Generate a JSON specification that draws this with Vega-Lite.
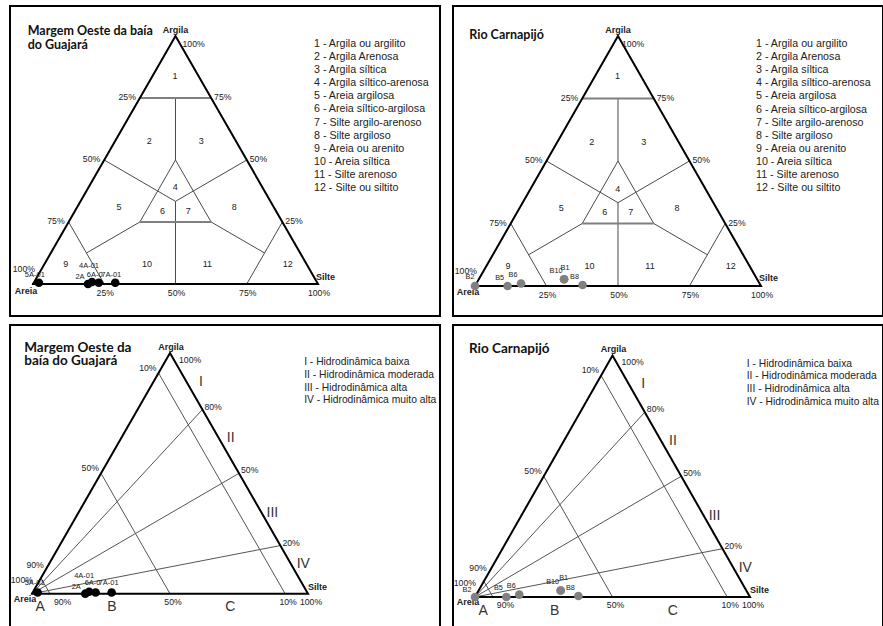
{
"$schema": "https://vega.github.io/schema/vega-lite/v6.json",
"padding": {"left": 9, "top": 5, "right": 0, "bottom": 0},
"background": "white",
"config": {"view": {"stroke": "#000", "strokeWidth": 2}, "text": {"font": "Liberation Sans", "color": "#222"}},
"datasets": {
"shepard": [
{"linha":"contorno","tipo":"contorno","ordem":1,"silte":0,"argila":0},
{"linha":"contorno","tipo":"contorno","ordem":2,"silte":100,"argila":0},
{"linha":"contorno","tipo":"contorno","ordem":3,"silte":0,"argila":100},
{"linha":"contorno","tipo":"contorno","ordem":4,"silte":0,"argila":0},
{"linha":"argila75","tipo":"forte","ordem":1,"silte":0,"argila":75},
{"linha":"argila75","tipo":"forte","ordem":2,"silte":25,"argila":75},
{"linha":"base_central","tipo":"forte","ordem":1,"silte":25,"argila":25},
{"linha":"base_central","tipo":"forte","ordem":2,"silte":50,"argila":25},
{"linha":"eixo_sup","tipo":"fina","ordem":1,"silte":12.5,"argila":75},
{"linha":"eixo_sup","tipo":"fina","ordem":2,"silte":25,"argila":50},
{"linha":"eixo_inf","tipo":"fina","ordem":1,"silte":33.33,"argila":33.33},
{"linha":"eixo_inf","tipo":"fina","ordem":2,"silte":50,"argila":0},
{"linha":"central_lados","tipo":"fina","ordem":1,"silte":25,"argila":25},
{"linha":"central_lados","tipo":"fina","ordem":2,"silte":25,"argila":50},
{"linha":"central_lados","tipo":"fina","ordem":3,"silte":50,"argila":25},
{"linha":"y_esq","tipo":"fina","ordem":1,"silte":0,"argila":50},
{"linha":"y_esq","tipo":"fina","ordem":2,"silte":33.33,"argila":33.33},
{"linha":"y_dir","tipo":"fina","ordem":1,"silte":50,"argila":50},
{"linha":"y_dir","tipo":"fina","ordem":2,"silte":33.33,"argila":33.33},
{"linha":"areia75","tipo":"fina","ordem":1,"silte":0,"argila":25},
{"linha":"areia75","tipo":"fina","ordem":2,"silte":25,"argila":0},
{"linha":"silte75","tipo":"fina","ordem":1,"silte":75,"argila":25},
{"linha":"silte75","tipo":"fina","ordem":2,"silte":75,"argila":0},
{"linha":"lig_esq","tipo":"fina","ordem":1,"silte":12.5,"argila":12.5},
{"linha":"lig_esq","tipo":"fina","ordem":2,"silte":25,"argila":25},
{"linha":"lig_dir","tipo":"fina","ordem":1,"silte":75,"argila":12.5},
{"linha":"lig_dir","tipo":"fina","ordem":2,"silte":50,"argila":25}
],
"pejrup": [
{"linha":"contorno","tipo":"contorno","ordem":1,"silte":0,"argila":0},
{"linha":"contorno","tipo":"contorno","ordem":2,"silte":100,"argila":0},
{"linha":"contorno","tipo":"contorno","ordem":3,"silte":0,"argila":100},
{"linha":"contorno","tipo":"contorno","ordem":4,"silte":0,"argila":0},
{"linha":"areia10","tipo":"fina","ordem":1,"silte":0,"argila":91.7},
{"linha":"areia10","tipo":"fina","ordem":2,"silte":91.7,"argila":0},
{"linha":"areia50","tipo":"fina","ordem":1,"silte":0,"argila":50},
{"linha":"areia50","tipo":"fina","ordem":2,"silte":50,"argila":0},
{"linha":"areia90","tipo":"fina","ordem":1,"silte":0,"argila":6.5},
{"linha":"areia90","tipo":"fina","ordem":2,"silte":6.5,"argila":0},
{"linha":"razao80","tipo":"fina","ordem":1,"silte":0,"argila":0},
{"linha":"razao80","tipo":"fina","ordem":2,"silte":23.5,"argila":76.5},
{"linha":"razao50","tipo":"fina","ordem":1,"silte":0,"argila":0},
{"linha":"razao50","tipo":"fina","ordem":2,"silte":50,"argila":50},
{"linha":"razao20","tipo":"fina","ordem":1,"silte":0,"argila":0},
{"linha":"razao20","tipo":"fina","ordem":2,"silte":80,"argila":20}
],
"classes": [
{"classe":1,"silte":7.8,"argila":84},
{"classe":2,"silte":12.05,"argila":57.5},
{"classe":3,"silte":30.25,"argila":57.5},
{"classe":4,"silte":30.4,"argila":39},
{"classe":5,"silte":14.6,"argila":31.2},
{"classe":6,"silte":30.6,"argila":29.6},
{"classe":7,"silte":39.7,"argila":29.6},
{"classe":8,"silte":55,"argila":31.2},
{"classe":9,"silte":7.5,"argila":8},
{"classe":10,"silte":36,"argila":8},
{"classe":11,"silte":57.2,"argila":8},
{"classe":12,"silte":85.4,"argila":8}
],
"escala_shepard": [
{"texto":"25%","lado":"esq","silte":0,"argila":75},
{"texto":"50%","lado":"esq","silte":0,"argila":50},
{"texto":"75%","lado":"esq","silte":0,"argila":25},
{"texto":"75%","lado":"dir","silte":25,"argila":75},
{"texto":"50%","lado":"dir","silte":50,"argila":50},
{"texto":"25%","lado":"dir","silte":75,"argila":25},
{"texto":"25%","lado":"base","silte":25,"argila":0},
{"texto":"50%","lado":"base","silte":50,"argila":0},
{"texto":"75%","lado":"base","silte":75,"argila":0},
{"texto":"100%","lado":"base","silte":100,"argila":0}
],
"escala_pejrup": [
{"texto":"10%","lado":"esq","silte":0,"argila":91.7},
{"texto":"50%","lado":"esq","silte":0,"argila":50},
{"texto":"90%","lado":"esq","silte":0,"argila":10},
{"texto":"80%","lado":"dir","silte":23.5,"argila":76.5},
{"texto":"50%","lado":"dir","silte":50,"argila":50},
{"texto":"20%","lado":"dir","silte":80,"argila":20},
{"texto":"90%","lado":"base","silte":10,"argila":0},
{"texto":"50%","lado":"base","silte":50,"argila":0},
{"texto":"10%","lado":"base","silte":91.7,"argila":0},
{"texto":"100%","lado":"base","silte":100,"argila":0}
],
"amostras": [
{"local":"Guajará","amostra":"5A-01","silte":1.8,"argila":0.5},
{"local":"Guajará","amostra":"2A","silte":19.3,"argila":0},
{"local":"Guajará","amostra":"4A-01","silte":20.3,"argila":0.8},
{"local":"Guajará","amostra":"6A-0","silte":22.8,"argila":0.5},
{"local":"Guajará","amostra":"7A-01","silte":28.6,"argila":0.5},
{"local":"Carnapijó","amostra":"B2","silte":0,"argila":0},
{"local":"Carnapijó","amostra":"B5","silte":11.4,"argila":0},
{"local":"Carnapijó","amostra":"B6","silte":15.6,"argila":1},
{"local":"Carnapijó","amostra":"B10","silte":29.8,"argila":2.7},
{"local":"Carnapijó","amostra":"B1","silte":29.8,"argila":2.7},
{"local":"Carnapijó","amostra":"B8","silte":37.4,"argila":0.4}
]
},
"columns": 2,
"spacing": {"row": 9, "column": 13},
"bounds": "flush",
"resolve": {"scale": {"x": "independent", "y": "independent"}},
"concat": [
{"width": 430, "height": 310, "layer": [
{"data":{"name":"shepard"},"transform":[{"filter":"datum.tipo == 'fina'"},{"calculate":"datum.silte + datum.argila / 2","as":"x"}],"mark":{"type":"line","color":"#4a4a4a","strokeWidth":1},"encoding":{"x":{"field":"x","type":"quantitative","scale":{"domain":[-8.07,142.81],"nice":false,"zero":false},"axis":null},"y":{"field":"argila","type":"quantitative","scale":{"domain":[-12.9,112.1],"nice":false,"zero":false},"axis":null},"detail":{"field":"linha","type":"nominal"},"order":{"field":"ordem","type":"quantitative"}}},
{"data":{"name":"shepard"},"transform":[{"filter":"datum.tipo == 'forte'"},{"calculate":"datum.silte + datum.argila / 2","as":"x"}],"mark":{"type":"line","color":"#808080","strokeWidth":2},"encoding":{"x":{"field":"x","type":"quantitative","scale":{"domain":[-8.07,142.81],"nice":false,"zero":false},"axis":null},"y":{"field":"argila","type":"quantitative","scale":{"domain":[-12.9,112.1],"nice":false,"zero":false},"axis":null},"detail":{"field":"linha","type":"nominal"},"order":{"field":"ordem","type":"quantitative"}}},
{"data":{"name":"shepard"},"transform":[{"filter":"datum.tipo == 'contorno'"},{"calculate":"datum.silte + datum.argila / 2","as":"x"}],"mark":{"type":"line","color":"#000","strokeWidth":2,"strokeCap":"square"},"encoding":{"x":{"field":"x","type":"quantitative","scale":{"domain":[-8.07,142.81],"nice":false,"zero":false},"axis":null},"y":{"field":"argila","type":"quantitative","scale":{"domain":[-12.9,112.1],"nice":false,"zero":false},"axis":null},"detail":{"field":"linha","type":"nominal"},"order":{"field":"ordem","type":"quantitative"}}},
{"data":{"name":"classes"},"transform":[{"calculate":"datum.silte + datum.argila / 2","as":"x"}],"mark":{"type":"text","fontSize":9,"align":"center","baseline":"middle"},"encoding":{"x":{"field":"x","type":"quantitative","scale":{"domain":[-8.07,142.81],"nice":false,"zero":false},"axis":null},"y":{"field":"argila","type":"quantitative","scale":{"domain":[-12.9,112.1],"nice":false,"zero":false},"axis":null},"text":{"field":"classe","type":"nominal"}}},
{"data":{"name":"escala_shepard"},"transform":[{"filter":"datum.lado == 'esq'"},{"calculate":"datum.silte + datum.argila / 2","as":"x"}],"mark":{"type":"text","fontSize":8.7,"align":"right","baseline":"middle","dx":-4,"dy":-1},"encoding":{"x":{"field":"x","type":"quantitative","scale":{"domain":[-8.07,142.81],"nice":false,"zero":false},"axis":null},"y":{"field":"argila","type":"quantitative","scale":{"domain":[-12.9,112.1],"nice":false,"zero":false},"axis":null},"text":{"field":"texto","type":"nominal"}}},
{"data":{"name":"escala_shepard"},"transform":[{"filter":"datum.lado == 'dir'"},{"calculate":"datum.silte + datum.argila / 2","as":"x"}],"mark":{"type":"text","fontSize":8.7,"align":"left","baseline":"middle","dx":3,"dy":-1},"encoding":{"x":{"field":"x","type":"quantitative","scale":{"domain":[-8.07,142.81],"nice":false,"zero":false},"axis":null},"y":{"field":"argila","type":"quantitative","scale":{"domain":[-12.9,112.1],"nice":false,"zero":false},"axis":null},"text":{"field":"texto","type":"nominal"}}},
{"data":{"name":"escala_shepard"},"transform":[{"filter":"datum.lado == 'base'"},{"calculate":"datum.silte + datum.argila / 2","as":"x"}],"mark":{"type":"text","fontSize":8.7,"align":"center","baseline":"middle","dx":1,"dy":9},"encoding":{"x":{"field":"x","type":"quantitative","scale":{"domain":[-8.07,142.81],"nice":false,"zero":false},"axis":null},"y":{"field":"argila","type":"quantitative","scale":{"domain":[-12.9,112.1],"nice":false,"zero":false},"axis":null},"text":{"field":"texto","type":"nominal"}}},
{"data":{"values":[{}]},"mark":{"type":"text","text":"Argila","fontWeight":"bold","fontSize":9,"align":"center","baseline":"middle","dy":-6},"encoding":{"x":{"datum":50,"type":"quantitative","scale":{"domain":[-8.07,142.81],"nice":false,"zero":false},"axis":null},"y":{"datum":100,"type":"quantitative","scale":{"domain":[-12.9,112.1],"nice":false,"zero":false},"axis":null}}},
{"data":{"values":[{}]},"mark":{"type":"text","text":"100%","fontSize":8.7,"align":"left","baseline":"middle","dx":7,"dy":8},"encoding":{"x":{"datum":50,"type":"quantitative","scale":{"domain":[-8.07,142.81],"nice":false,"zero":false},"axis":null},"y":{"datum":100,"type":"quantitative","scale":{"domain":[-12.9,112.1],"nice":false,"zero":false},"axis":null}}},
{"data":{"values":[{}]},"mark":{"type":"text","text":"100%","fontSize":8.7,"align":"right","baseline":"middle","dx":2,"dy":-15},"encoding":{"x":{"datum":0,"type":"quantitative","scale":{"domain":[-8.07,142.81],"nice":false,"zero":false},"axis":null},"y":{"datum":0,"type":"quantitative","scale":{"domain":[-12.9,112.1],"nice":false,"zero":false},"axis":null}}},
{"data":{"values":[{}]},"mark":{"type":"text","text":"Areia","fontWeight":"bold","fontSize":9,"align":"center","baseline":"middle","dx":-7,"dy":7},"encoding":{"x":{"datum":0,"type":"quantitative","scale":{"domain":[-8.07,142.81],"nice":false,"zero":false},"axis":null},"y":{"datum":0,"type":"quantitative","scale":{"domain":[-12.9,112.1],"nice":false,"zero":false},"axis":null}}},
{"data":{"values":[{}]},"mark":{"type":"text","text":"Silte","fontWeight":"bold","fontSize":9,"align":"left","baseline":"middle","dx":-2,"dy":-7},"encoding":{"x":{"datum":100,"type":"quantitative","scale":{"domain":[-8.07,142.81],"nice":false,"zero":false},"axis":null},"y":{"datum":0,"type":"quantitative","scale":{"domain":[-12.9,112.1],"nice":false,"zero":false},"axis":null}}},
{"data":{"values":[{}]},"mark":{"type":"text","text":["Margem Oeste da baía","do Guajará"],"font":"Lato","fontWeight":"bold","fontSize":12.5,"lineHeight":14,"align":"left","baseline":"top","color":"#111"},"encoding":{"x":{"datum":-1.86,"type":"quantitative","scale":{"domain":[-8.07,142.81],"nice":false,"zero":false},"axis":null},"y":{"datum":104.5,"type":"quantitative","scale":{"domain":[-12.9,112.1],"nice":false,"zero":false},"axis":null}}},
{"data":{"values":[{}]},"mark":{"type":"text","text":["1 - Argila ou argilito","2 - Argila Arenosa","3 - Argila síltica","4 - Argila síltico-arenosa","5 - Areia argilosa","6 - Areia síltico-argilosa","7 - Silte argilo-arenoso","8 - Silte argiloso","9 - Areia ou arenito","10 - Areia síltica","11 - Silte arenoso","12 - Silte ou siltito"],"fontSize":10.7,"lineHeight":13.1,"align":"left","baseline":"top"},"encoding":{"x":{"datum":98.6,"type":"quantitative","scale":{"domain":[-8.07,142.81],"nice":false,"zero":false},"axis":null},"y":{"datum":98.8,"type":"quantitative","scale":{"domain":[-12.9,112.1],"nice":false,"zero":false},"axis":null}}},
{"data":{"name":"amostras"},"transform":[{"filter":"datum.local == 'Guajará'"},{"calculate":"datum.silte + datum.argila / 2","as":"x"}],"mark":{"type":"circle","color":"#000","size":75,"opacity":1},"encoding":{"x":{"field":"x","type":"quantitative","scale":{"domain":[-8.07,142.81],"nice":false,"zero":false},"axis":null},"y":{"field":"argila","type":"quantitative","scale":{"domain":[-12.9,112.1],"nice":false,"zero":false},"axis":null}}},
{"data":{"name":"amostras"},"transform":[{"filter":"datum.amostra == '5A-01' || datum.amostra == '6A-0' || datum.amostra == '7A-01'"},{"calculate":"datum.silte + datum.argila / 2","as":"x"}],"mark":{"type":"text","fontSize":7.5,"align":"center","baseline":"middle","dx":-4,"dy":-8},"encoding":{"x":{"field":"x","type":"quantitative","scale":{"domain":[-8.07,142.81],"nice":false,"zero":false},"axis":null},"y":{"field":"argila","type":"quantitative","scale":{"domain":[-12.9,112.1],"nice":false,"zero":false},"axis":null},"text":{"field":"amostra","type":"nominal"}}},
{"data":{"name":"amostras"},"transform":[{"filter":"datum.amostra == '2A'"},{"calculate":"datum.silte + datum.argila / 2","as":"x"}],"mark":{"type":"text","fontSize":7.5,"align":"center","baseline":"middle","dx":-8,"dy":-7},"encoding":{"x":{"field":"x","type":"quantitative","scale":{"domain":[-8.07,142.81],"nice":false,"zero":false},"axis":null},"y":{"field":"argila","type":"quantitative","scale":{"domain":[-12.9,112.1],"nice":false,"zero":false},"axis":null},"text":{"field":"amostra","type":"nominal"}}},
{"data":{"name":"amostras"},"transform":[{"filter":"datum.amostra == '4A-01'"},{"calculate":"datum.silte + datum.argila / 2","as":"x"}],"mark":{"type":"text","fontSize":7.5,"align":"center","baseline":"middle","dx":-3,"dy":-16},"encoding":{"x":{"field":"x","type":"quantitative","scale":{"domain":[-8.07,142.81],"nice":false,"zero":false},"axis":null},"y":{"field":"argila","type":"quantitative","scale":{"domain":[-12.9,112.1],"nice":false,"zero":false},"axis":null},"text":{"field":"amostra","type":"nominal"}}}
]},
{"width": 430, "height": 310, "layer": [
{"data":{"name":"shepard"},"transform":[{"filter":"datum.tipo == 'fina'"},{"calculate":"datum.silte + datum.argila / 2","as":"x"}],"mark":{"type":"line","color":"#4a4a4a","strokeWidth":1},"encoding":{"x":{"field":"x","type":"quantitative","scale":{"domain":[-7.69,142.66],"nice":false,"zero":false},"axis":null},"y":{"field":"argila","type":"quantitative","scale":{"domain":[-12,112],"nice":false,"zero":false},"axis":null},"detail":{"field":"linha","type":"nominal"},"order":{"field":"ordem","type":"quantitative"}}},
{"data":{"name":"shepard"},"transform":[{"filter":"datum.tipo == 'forte'"},{"calculate":"datum.silte + datum.argila / 2","as":"x"}],"mark":{"type":"line","color":"#808080","strokeWidth":2},"encoding":{"x":{"field":"x","type":"quantitative","scale":{"domain":[-7.69,142.66],"nice":false,"zero":false},"axis":null},"y":{"field":"argila","type":"quantitative","scale":{"domain":[-12,112],"nice":false,"zero":false},"axis":null},"detail":{"field":"linha","type":"nominal"},"order":{"field":"ordem","type":"quantitative"}}},
{"data":{"name":"shepard"},"transform":[{"filter":"datum.tipo == 'contorno'"},{"calculate":"datum.silte + datum.argila / 2","as":"x"}],"mark":{"type":"line","color":"#000","strokeWidth":2,"strokeCap":"square"},"encoding":{"x":{"field":"x","type":"quantitative","scale":{"domain":[-7.69,142.66],"nice":false,"zero":false},"axis":null},"y":{"field":"argila","type":"quantitative","scale":{"domain":[-12,112],"nice":false,"zero":false},"axis":null},"detail":{"field":"linha","type":"nominal"},"order":{"field":"ordem","type":"quantitative"}}},
{"data":{"name":"classes"},"transform":[{"calculate":"datum.silte + datum.argila / 2","as":"x"}],"mark":{"type":"text","fontSize":9,"align":"center","baseline":"middle"},"encoding":{"x":{"field":"x","type":"quantitative","scale":{"domain":[-7.69,142.66],"nice":false,"zero":false},"axis":null},"y":{"field":"argila","type":"quantitative","scale":{"domain":[-12,112],"nice":false,"zero":false},"axis":null},"text":{"field":"classe","type":"nominal"}}},
{"data":{"name":"escala_shepard"},"transform":[{"filter":"datum.lado == 'esq'"},{"calculate":"datum.silte + datum.argila / 2","as":"x"}],"mark":{"type":"text","fontSize":8.7,"align":"right","baseline":"middle","dx":-4,"dy":-1},"encoding":{"x":{"field":"x","type":"quantitative","scale":{"domain":[-7.69,142.66],"nice":false,"zero":false},"axis":null},"y":{"field":"argila","type":"quantitative","scale":{"domain":[-12,112],"nice":false,"zero":false},"axis":null},"text":{"field":"texto","type":"nominal"}}},
{"data":{"name":"escala_shepard"},"transform":[{"filter":"datum.lado == 'dir'"},{"calculate":"datum.silte + datum.argila / 2","as":"x"}],"mark":{"type":"text","fontSize":8.7,"align":"left","baseline":"middle","dx":3,"dy":-1},"encoding":{"x":{"field":"x","type":"quantitative","scale":{"domain":[-7.69,142.66],"nice":false,"zero":false},"axis":null},"y":{"field":"argila","type":"quantitative","scale":{"domain":[-12,112],"nice":false,"zero":false},"axis":null},"text":{"field":"texto","type":"nominal"}}},
{"data":{"name":"escala_shepard"},"transform":[{"filter":"datum.lado == 'base'"},{"calculate":"datum.silte + datum.argila / 2","as":"x"}],"mark":{"type":"text","fontSize":8.7,"align":"center","baseline":"middle","dx":1,"dy":9},"encoding":{"x":{"field":"x","type":"quantitative","scale":{"domain":[-7.69,142.66],"nice":false,"zero":false},"axis":null},"y":{"field":"argila","type":"quantitative","scale":{"domain":[-12,112],"nice":false,"zero":false},"axis":null},"text":{"field":"texto","type":"nominal"}}},
{"data":{"values":[{}]},"mark":{"type":"text","text":"Argila","fontWeight":"bold","fontSize":9,"align":"center","baseline":"middle","dy":-6},"encoding":{"x":{"datum":50,"type":"quantitative","scale":{"domain":[-7.69,142.66],"nice":false,"zero":false},"axis":null},"y":{"datum":100,"type":"quantitative","scale":{"domain":[-12,112],"nice":false,"zero":false},"axis":null}}},
{"data":{"values":[{}]},"mark":{"type":"text","text":"100%","fontSize":8.7,"align":"left","baseline":"middle","dx":4,"dy":8},"encoding":{"x":{"datum":50,"type":"quantitative","scale":{"domain":[-7.69,142.66],"nice":false,"zero":false},"axis":null},"y":{"datum":100,"type":"quantitative","scale":{"domain":[-12,112],"nice":false,"zero":false},"axis":null}}},
{"data":{"values":[{}]},"mark":{"type":"text","text":"100%","fontSize":8.7,"align":"right","baseline":"middle","dx":2,"dy":-15},"encoding":{"x":{"datum":0,"type":"quantitative","scale":{"domain":[-7.69,142.66],"nice":false,"zero":false},"axis":null},"y":{"datum":0,"type":"quantitative","scale":{"domain":[-12,112],"nice":false,"zero":false},"axis":null}}},
{"data":{"values":[{}]},"mark":{"type":"text","text":"Areia","fontWeight":"bold","fontSize":9,"align":"center","baseline":"middle","dx":-7,"dy":6},"encoding":{"x":{"datum":0,"type":"quantitative","scale":{"domain":[-7.69,142.66],"nice":false,"zero":false},"axis":null},"y":{"datum":0,"type":"quantitative","scale":{"domain":[-12,112],"nice":false,"zero":false},"axis":null}}},
{"data":{"values":[{}]},"mark":{"type":"text","text":"Silte","fontWeight":"bold","fontSize":9,"align":"left","baseline":"middle","dx":-2,"dy":-8},"encoding":{"x":{"datum":100,"type":"quantitative","scale":{"domain":[-7.69,142.66],"nice":false,"zero":false},"axis":null},"y":{"datum":0,"type":"quantitative","scale":{"domain":[-12,112],"nice":false,"zero":false},"axis":null}}},
{"data":{"values":[{}]},"mark":{"type":"text","text":"Rio Carnapijó","font":"Lato","fontWeight":"bold","fontSize":12.5,"align":"left","baseline":"top","color":"#111"},"encoding":{"x":{"datum":-2.0,"type":"quantitative","scale":{"domain":[-7.69,142.66],"nice":false,"zero":false},"axis":null},"y":{"datum":102.8,"type":"quantitative","scale":{"domain":[-12,112],"nice":false,"zero":false},"axis":null}}},
{"data":{"values":[{}]},"mark":{"type":"text","text":["1 - Argila ou argilito","2 - Argila Arenosa","3 - Argila síltica","4 - Argila síltico-arenosa","5 - Areia argilosa","6 - Areia síltico-argilosa","7 - Silte argilo-arenoso","8 - Silte argiloso","9 - Areia ou arenito","10 - Areia síltica","11 - Silte arenoso","12 - Silte ou siltito"],"fontSize":10.7,"lineHeight":13.1,"align":"left","baseline":"top"},"encoding":{"x":{"datum":98.25,"type":"quantitative","scale":{"domain":[-7.69,142.66],"nice":false,"zero":false},"axis":null},"y":{"datum":98.8,"type":"quantitative","scale":{"domain":[-12,112],"nice":false,"zero":false},"axis":null}}},
{"data":{"name":"amostras"},"transform":[{"filter":"datum.local == 'Carnapijó'"},{"calculate":"datum.silte + datum.argila / 2","as":"x"}],"mark":{"type":"circle","color":"#808080","size":75,"opacity":1},"encoding":{"x":{"field":"x","type":"quantitative","scale":{"domain":[-7.69,142.66],"nice":false,"zero":false},"axis":null},"y":{"field":"argila","type":"quantitative","scale":{"domain":[-12,112],"nice":false,"zero":false},"axis":null}}},
{"data":{"name":"amostras"},"transform":[{"filter":"datum.amostra == 'B5' || datum.amostra == 'B6' || datum.amostra == 'B10' || datum.amostra == 'B8'"},{"calculate":"datum.silte + datum.argila / 2","as":"x"}],"mark":{"type":"text","fontSize":7.3,"align":"center","baseline":"middle","dx":-8,"dy":-8.5},"encoding":{"x":{"field":"x","type":"quantitative","scale":{"domain":[-7.69,142.66],"nice":false,"zero":false},"axis":null},"y":{"field":"argila","type":"quantitative","scale":{"domain":[-12,112],"nice":false,"zero":false},"axis":null},"text":{"field":"amostra","type":"nominal"}}},
{"data":{"name":"amostras"},"transform":[{"filter":"datum.amostra == 'B2'"},{"calculate":"datum.silte + datum.argila / 2","as":"x"}],"mark":{"type":"text","fontSize":7.3,"align":"center","baseline":"middle","dx":-5,"dy":-9},"encoding":{"x":{"field":"x","type":"quantitative","scale":{"domain":[-7.69,142.66],"nice":false,"zero":false},"axis":null},"y":{"field":"argila","type":"quantitative","scale":{"domain":[-12,112],"nice":false,"zero":false},"axis":null},"text":{"field":"amostra","type":"nominal"}}},
{"data":{"name":"amostras"},"transform":[{"filter":"datum.amostra == 'B1'"},{"calculate":"datum.silte + datum.argila / 2","as":"x"}],"mark":{"type":"text","fontSize":7.3,"align":"center","baseline":"middle","dx":1,"dy":-11},"encoding":{"x":{"field":"x","type":"quantitative","scale":{"domain":[-7.69,142.66],"nice":false,"zero":false},"axis":null},"y":{"field":"argila","type":"quantitative","scale":{"domain":[-12,112],"nice":false,"zero":false},"axis":null},"text":{"field":"amostra","type":"nominal"}}}
]},
{"width": 430, "height": 304, "layer": [
{"data":{"name":"pejrup"},"transform":[{"filter":"datum.tipo == 'fina'"},{"calculate":"datum.silte + datum.argila / 2","as":"x"}],"mark":{"type":"line","color":"#555","strokeWidth":1},"encoding":{"x":{"field":"x","type":"quantitative","scale":{"domain":[-7.97,147.83],"nice":false,"zero":false},"axis":null},"y":{"field":"argila","type":"quantitative","scale":{"domain":[-14.67,111.63],"nice":false,"zero":false},"axis":null},"detail":{"field":"linha","type":"nominal"},"order":{"field":"ordem","type":"quantitative"}}},
{"data":{"name":"pejrup"},"transform":[{"filter":"datum.tipo == 'contorno'"},{"calculate":"datum.silte + datum.argila / 2","as":"x"}],"mark":{"type":"line","color":"#000","strokeWidth":2,"strokeCap":"square"},"encoding":{"x":{"field":"x","type":"quantitative","scale":{"domain":[-7.97,147.83],"nice":false,"zero":false},"axis":null},"y":{"field":"argila","type":"quantitative","scale":{"domain":[-14.67,111.63],"nice":false,"zero":false},"axis":null},"detail":{"field":"linha","type":"nominal"},"order":{"field":"ordem","type":"quantitative"}}},
{"data":{"name":"escala_pejrup"},"transform":[{"filter":"datum.lado == 'esq'"},{"calculate":"datum.silte + datum.argila / 2","as":"x"}],"mark":{"type":"text","fontSize":8.7,"align":"right","baseline":"middle","dx":-2,"dy":-5},"encoding":{"x":{"field":"x","type":"quantitative","scale":{"domain":[-7.97,147.83],"nice":false,"zero":false},"axis":null},"y":{"field":"argila","type":"quantitative","scale":{"domain":[-14.67,111.63],"nice":false,"zero":false},"axis":null},"text":{"field":"texto","type":"nominal"}}},
{"data":{"name":"escala_pejrup"},"transform":[{"filter":"datum.lado == 'dir'"},{"calculate":"datum.silte + datum.argila / 2","as":"x"}],"mark":{"type":"text","fontSize":8.7,"align":"left","baseline":"middle","dx":2,"dy":-3},"encoding":{"x":{"field":"x","type":"quantitative","scale":{"domain":[-7.97,147.83],"nice":false,"zero":false},"axis":null},"y":{"field":"argila","type":"quantitative","scale":{"domain":[-14.67,111.63],"nice":false,"zero":false},"axis":null},"text":{"field":"texto","type":"nominal"}}},
{"data":{"name":"escala_pejrup"},"transform":[{"filter":"datum.lado == 'base'"},{"calculate":"datum.silte + datum.argila / 2","as":"x"}],"mark":{"type":"text","fontSize":8.7,"align":"center","baseline":"middle","dx":3,"dy":8},"encoding":{"x":{"field":"x","type":"quantitative","scale":{"domain":[-7.97,147.83],"nice":false,"zero":false},"axis":null},"y":{"field":"argila","type":"quantitative","scale":{"domain":[-14.67,111.63],"nice":false,"zero":false},"axis":null},"text":{"field":"texto","type":"nominal"}}},
{"data":{"values":[{}]},"mark":{"type":"text","text":"Argila","fontWeight":"bold","fontSize":9,"align":"center","baseline":"middle","dx":1,"dy":-6},"encoding":{"x":{"datum":50,"type":"quantitative","scale":{"domain":[-7.97,147.83],"nice":false,"zero":false},"axis":null},"y":{"datum":100,"type":"quantitative","scale":{"domain":[-14.67,111.63],"nice":false,"zero":false},"axis":null}}},
{"data":{"values":[{}]},"mark":{"type":"text","text":"100%","fontSize":8.7,"align":"left","baseline":"middle","dx":9,"dy":7},"encoding":{"x":{"datum":50,"type":"quantitative","scale":{"domain":[-7.97,147.83],"nice":false,"zero":false},"axis":null},"y":{"datum":100,"type":"quantitative","scale":{"domain":[-14.67,111.63],"nice":false,"zero":false},"axis":null}}},
{"data":{"values":[{}]},"mark":{"type":"text","text":"100%","fontSize":8.7,"align":"right","baseline":"middle","dx":1,"dy":-14},"encoding":{"x":{"datum":0,"type":"quantitative","scale":{"domain":[-7.97,147.83],"nice":false,"zero":false},"axis":null},"y":{"datum":0,"type":"quantitative","scale":{"domain":[-14.67,111.63],"nice":false,"zero":false},"axis":null}}},
{"data":{"values":[{}]},"mark":{"type":"text","text":"Areia","fontWeight":"bold","fontSize":9,"align":"center","baseline":"middle","dx":-7,"dy":5},"encoding":{"x":{"datum":0,"type":"quantitative","scale":{"domain":[-7.97,147.83],"nice":false,"zero":false},"axis":null},"y":{"datum":0,"type":"quantitative","scale":{"domain":[-14.67,111.63],"nice":false,"zero":false},"axis":null}}},
{"data":{"values":[{}]},"mark":{"type":"text","text":"Silte","fontWeight":"bold","fontSize":9,"align":"left","baseline":"middle","dx":0,"dy":-7},"encoding":{"x":{"datum":100,"type":"quantitative","scale":{"domain":[-7.97,147.83],"nice":false,"zero":false},"axis":null},"y":{"datum":0,"type":"quantitative","scale":{"domain":[-14.67,111.63],"nice":false,"zero":false},"axis":null}}},
{"data":{"values":[{}]},"mark":{"type":"text","text":"I","fontSize":14,"align":"center","baseline":"middle","color":"#333"},"encoding":{"x":{"datum":61.2,"type":"quantitative","scale":{"domain":[-7.97,147.83],"nice":false,"zero":false},"axis":null},"y":{"datum":88,"type":"quantitative","scale":{"domain":[-14.67,111.63],"nice":false,"zero":false},"axis":null}}},
{"data":{"values":[{}]},"mark":{"type":"text","text":"II","fontSize":14,"align":"center","baseline":"middle","color":"#333"},"encoding":{"x":{"datum":72,"type":"quantitative","scale":{"domain":[-7.97,147.83],"nice":false,"zero":false},"axis":null},"y":{"datum":64.5,"type":"quantitative","scale":{"domain":[-14.67,111.63],"nice":false,"zero":false},"axis":null}}},
{"data":{"values":[{}]},"mark":{"type":"text","text":"III","fontSize":14,"align":"center","baseline":"middle","color":"#333"},"encoding":{"x":{"datum":87.1,"type":"quantitative","scale":{"domain":[-7.97,147.83],"nice":false,"zero":false},"axis":null},"y":{"datum":33.6,"type":"quantitative","scale":{"domain":[-14.67,111.63],"nice":false,"zero":false},"axis":null}}},
{"data":{"values":[{}]},"mark":{"type":"text","text":"IV","fontSize":14,"align":"center","baseline":"middle","color":"#333"},"encoding":{"x":{"datum":98.3,"type":"quantitative","scale":{"domain":[-7.97,147.83],"nice":false,"zero":false},"axis":null},"y":{"datum":12.2,"type":"quantitative","scale":{"domain":[-14.67,111.63],"nice":false,"zero":false},"axis":null}}},
{"data":{"values":[{}]},"mark":{"type":"text","text":"A","fontSize":14,"align":"center","baseline":"middle","color":"#333"},"encoding":{"x":{"datum":3,"type":"quantitative","scale":{"domain":[-7.97,147.83],"nice":false,"zero":false},"axis":null},"y":{"datum":-5.6,"type":"quantitative","scale":{"domain":[-14.67,111.63],"nice":false,"zero":false},"axis":null}}},
{"data":{"values":[{}]},"mark":{"type":"text","text":"B","fontSize":14,"align":"center","baseline":"middle","color":"#333"},"encoding":{"x":{"datum":29,"type":"quantitative","scale":{"domain":[-7.97,147.83],"nice":false,"zero":false},"axis":null},"y":{"datum":-5.6,"type":"quantitative","scale":{"domain":[-14.67,111.63],"nice":false,"zero":false},"axis":null}}},
{"data":{"values":[{}]},"mark":{"type":"text","text":"C","fontSize":14,"align":"center","baseline":"middle","color":"#333"},"encoding":{"x":{"datum":71.9,"type":"quantitative","scale":{"domain":[-7.97,147.83],"nice":false,"zero":false},"axis":null},"y":{"datum":-5.6,"type":"quantitative","scale":{"domain":[-14.67,111.63],"nice":false,"zero":false},"axis":null}}},
{"data":{"values":[{}]},"mark":{"type":"text","text":["Margem Oeste da","baía do Guajará"],"font":"Lato","fontWeight":"bold","fontSize":13.5,"lineHeight":13,"align":"left","baseline":"top","color":"#111"},"encoding":{"x":{"datum":-2.8,"type":"quantitative","scale":{"domain":[-7.97,147.83],"nice":false,"zero":false},"axis":null},"y":{"datum":105.1,"type":"quantitative","scale":{"domain":[-14.67,111.63],"nice":false,"zero":false},"axis":null}}},
{"data":{"values":[{}]},"mark":{"type":"text","text":["I - Hidrodinâmica baixa","II - Hidrodinâmica moderada","III - Hidrodinâmica alta","IV - Hidrodinâmica muito alta"],"fontSize":10.3,"lineHeight":12.6,"align":"left","baseline":"top"},"encoding":{"x":{"datum":98.6,"type":"quantitative","scale":{"domain":[-7.97,147.83],"nice":false,"zero":false},"axis":null},"y":{"datum":98.2,"type":"quantitative","scale":{"domain":[-14.67,111.63],"nice":false,"zero":false},"axis":null}}},
{"data":{"name":"amostras"},"transform":[{"filter":"datum.local == 'Guajará'"},{"calculate":"datum.silte + datum.argila / 2","as":"x"}],"mark":{"type":"circle","color":"#000","size":75,"opacity":1},"encoding":{"x":{"field":"x","type":"quantitative","scale":{"domain":[-7.97,147.83],"nice":false,"zero":false},"axis":null},"y":{"field":"argila","type":"quantitative","scale":{"domain":[-14.67,111.63],"nice":false,"zero":false},"axis":null}}},
{"data":{"name":"amostras"},"transform":[{"filter":"datum.amostra == '5A-01' || datum.amostra == '6A-0' || datum.amostra == '7A-01'"},{"calculate":"datum.silte + datum.argila / 2","as":"x"}],"mark":{"type":"text","fontSize":7.5,"align":"center","baseline":"middle","dx":-3,"dy":-9},"encoding":{"x":{"field":"x","type":"quantitative","scale":{"domain":[-7.97,147.83],"nice":false,"zero":false},"axis":null},"y":{"field":"argila","type":"quantitative","scale":{"domain":[-14.67,111.63],"nice":false,"zero":false},"axis":null},"text":{"field":"amostra","type":"nominal"}}},
{"data":{"name":"amostras"},"transform":[{"filter":"datum.amostra == '2A'"},{"calculate":"datum.silte + datum.argila / 2","as":"x"}],"mark":{"type":"text","fontSize":7.5,"align":"center","baseline":"middle","dx":-9,"dy":-7},"encoding":{"x":{"field":"x","type":"quantitative","scale":{"domain":[-7.97,147.83],"nice":false,"zero":false},"axis":null},"y":{"field":"argila","type":"quantitative","scale":{"domain":[-14.67,111.63],"nice":false,"zero":false},"axis":null},"text":{"field":"amostra","type":"nominal"}}},
{"data":{"name":"amostras"},"transform":[{"filter":"datum.amostra == '4A-01'"},{"calculate":"datum.silte + datum.argila / 2","as":"x"}],"mark":{"type":"text","fontSize":7.5,"align":"center","baseline":"middle","dx":-5,"dy":-16},"encoding":{"x":{"field":"x","type":"quantitative","scale":{"domain":[-7.97,147.83],"nice":false,"zero":false},"axis":null},"y":{"field":"argila","type":"quantitative","scale":{"domain":[-14.67,111.63],"nice":false,"zero":false},"axis":null},"text":{"field":"amostra","type":"nominal"}}}
]},
{"width": 430, "height": 304, "layer": [
{"data":{"name":"pejrup"},"transform":[{"filter":"datum.tipo == 'fina'"},{"calculate":"datum.silte + datum.argila / 2","as":"x"}],"mark":{"type":"line","color":"#555","strokeWidth":1},"encoding":{"x":{"field":"x","type":"quantitative","scale":{"domain":[-8,148.36],"nice":false,"zero":false},"axis":null},"y":{"field":"argila","type":"quantitative","scale":{"domain":[-13.25,112.6],"nice":false,"zero":false},"axis":null},"detail":{"field":"linha","type":"nominal"},"order":{"field":"ordem","type":"quantitative"}}},
{"data":{"name":"pejrup"},"transform":[{"filter":"datum.tipo == 'contorno'"},{"calculate":"datum.silte + datum.argila / 2","as":"x"}],"mark":{"type":"line","color":"#000","strokeWidth":2,"strokeCap":"square"},"encoding":{"x":{"field":"x","type":"quantitative","scale":{"domain":[-8,148.36],"nice":false,"zero":false},"axis":null},"y":{"field":"argila","type":"quantitative","scale":{"domain":[-13.25,112.6],"nice":false,"zero":false},"axis":null},"detail":{"field":"linha","type":"nominal"},"order":{"field":"ordem","type":"quantitative"}}},
{"data":{"name":"escala_pejrup"},"transform":[{"filter":"datum.lado == 'esq'"},{"calculate":"datum.silte + datum.argila / 2","as":"x"}],"mark":{"type":"text","fontSize":8.7,"align":"right","baseline":"middle","dx":-2,"dy":-5},"encoding":{"x":{"field":"x","type":"quantitative","scale":{"domain":[-8,148.36],"nice":false,"zero":false},"axis":null},"y":{"field":"argila","type":"quantitative","scale":{"domain":[-13.25,112.6],"nice":false,"zero":false},"axis":null},"text":{"field":"texto","type":"nominal"}}},
{"data":{"name":"escala_pejrup"},"transform":[{"filter":"datum.lado == 'dir'"},{"calculate":"datum.silte + datum.argila / 2","as":"x"}],"mark":{"type":"text","fontSize":8.7,"align":"left","baseline":"middle","dx":2,"dy":-3},"encoding":{"x":{"field":"x","type":"quantitative","scale":{"domain":[-8,148.36],"nice":false,"zero":false},"axis":null},"y":{"field":"argila","type":"quantitative","scale":{"domain":[-13.25,112.6],"nice":false,"zero":false},"axis":null},"text":{"field":"texto","type":"nominal"}}},
{"data":{"name":"escala_pejrup"},"transform":[{"filter":"datum.lado == 'base'"},{"calculate":"datum.silte + datum.argila / 2","as":"x"}],"mark":{"type":"text","fontSize":8.7,"align":"center","baseline":"middle","dx":3,"dy":8},"encoding":{"x":{"field":"x","type":"quantitative","scale":{"domain":[-8,148.36],"nice":false,"zero":false},"axis":null},"y":{"field":"argila","type":"quantitative","scale":{"domain":[-13.25,112.6],"nice":false,"zero":false},"axis":null},"text":{"field":"texto","type":"nominal"}}},
{"data":{"values":[{}]},"mark":{"type":"text","text":"Argila","fontWeight":"bold","fontSize":9,"align":"center","baseline":"middle","dx":1,"dy":-6},"encoding":{"x":{"datum":50,"type":"quantitative","scale":{"domain":[-8,148.36],"nice":false,"zero":false},"axis":null},"y":{"datum":100,"type":"quantitative","scale":{"domain":[-13.25,112.6],"nice":false,"zero":false},"axis":null}}},
{"data":{"values":[{}]},"mark":{"type":"text","text":"100%","fontSize":8.7,"align":"left","baseline":"middle","dx":9,"dy":7},"encoding":{"x":{"datum":50,"type":"quantitative","scale":{"domain":[-8,148.36],"nice":false,"zero":false},"axis":null},"y":{"datum":100,"type":"quantitative","scale":{"domain":[-13.25,112.6],"nice":false,"zero":false},"axis":null}}},
{"data":{"values":[{}]},"mark":{"type":"text","text":"100%","fontSize":8.7,"align":"right","baseline":"middle","dx":1,"dy":-14},"encoding":{"x":{"datum":0,"type":"quantitative","scale":{"domain":[-8,148.36],"nice":false,"zero":false},"axis":null},"y":{"datum":0,"type":"quantitative","scale":{"domain":[-13.25,112.6],"nice":false,"zero":false},"axis":null}}},
{"data":{"values":[{}]},"mark":{"type":"text","text":"Areia","fontWeight":"bold","fontSize":9,"align":"center","baseline":"middle","dx":-7,"dy":5},"encoding":{"x":{"datum":0,"type":"quantitative","scale":{"domain":[-8,148.36],"nice":false,"zero":false},"axis":null},"y":{"datum":0,"type":"quantitative","scale":{"domain":[-13.25,112.6],"nice":false,"zero":false},"axis":null}}},
{"data":{"values":[{}]},"mark":{"type":"text","text":"Silte","fontWeight":"bold","fontSize":9,"align":"left","baseline":"middle","dx":0,"dy":-7},"encoding":{"x":{"datum":100,"type":"quantitative","scale":{"domain":[-8,148.36],"nice":false,"zero":false},"axis":null},"y":{"datum":0,"type":"quantitative","scale":{"domain":[-13.25,112.6],"nice":false,"zero":false},"axis":null}}},
{"data":{"values":[{}]},"mark":{"type":"text","text":"I","fontSize":14,"align":"center","baseline":"middle","color":"#333"},"encoding":{"x":{"datum":61.2,"type":"quantitative","scale":{"domain":[-8,148.36],"nice":false,"zero":false},"axis":null},"y":{"datum":88,"type":"quantitative","scale":{"domain":[-13.25,112.6],"nice":false,"zero":false},"axis":null}}},
{"data":{"values":[{}]},"mark":{"type":"text","text":"II","fontSize":14,"align":"center","baseline":"middle","color":"#333"},"encoding":{"x":{"datum":72,"type":"quantitative","scale":{"domain":[-8,148.36],"nice":false,"zero":false},"axis":null},"y":{"datum":64.5,"type":"quantitative","scale":{"domain":[-13.25,112.6],"nice":false,"zero":false},"axis":null}}},
{"data":{"values":[{}]},"mark":{"type":"text","text":"III","fontSize":14,"align":"center","baseline":"middle","color":"#333"},"encoding":{"x":{"datum":87.1,"type":"quantitative","scale":{"domain":[-8,148.36],"nice":false,"zero":false},"axis":null},"y":{"datum":33.6,"type":"quantitative","scale":{"domain":[-13.25,112.6],"nice":false,"zero":false},"axis":null}}},
{"data":{"values":[{}]},"mark":{"type":"text","text":"IV","fontSize":14,"align":"center","baseline":"middle","color":"#333"},"encoding":{"x":{"datum":98.3,"type":"quantitative","scale":{"domain":[-8,148.36],"nice":false,"zero":false},"axis":null},"y":{"datum":12.2,"type":"quantitative","scale":{"domain":[-13.25,112.6],"nice":false,"zero":false},"axis":null}}},
{"data":{"values":[{}]},"mark":{"type":"text","text":"A","fontSize":14,"align":"center","baseline":"middle","color":"#333"},"encoding":{"x":{"datum":3,"type":"quantitative","scale":{"domain":[-8,148.36],"nice":false,"zero":false},"axis":null},"y":{"datum":-5.6,"type":"quantitative","scale":{"domain":[-13.25,112.6],"nice":false,"zero":false},"axis":null}}},
{"data":{"values":[{}]},"mark":{"type":"text","text":"B","fontSize":14,"align":"center","baseline":"middle","color":"#333"},"encoding":{"x":{"datum":29,"type":"quantitative","scale":{"domain":[-8,148.36],"nice":false,"zero":false},"axis":null},"y":{"datum":-5.6,"type":"quantitative","scale":{"domain":[-13.25,112.6],"nice":false,"zero":false},"axis":null}}},
{"data":{"values":[{}]},"mark":{"type":"text","text":"C","fontSize":14,"align":"center","baseline":"middle","color":"#333"},"encoding":{"x":{"datum":71.9,"type":"quantitative","scale":{"domain":[-8,148.36],"nice":false,"zero":false},"axis":null},"y":{"datum":-5.6,"type":"quantitative","scale":{"domain":[-13.25,112.6],"nice":false,"zero":false},"axis":null}}},
{"data":{"values":[{}]},"mark":{"type":"text","text":"Rio Carnapijó","font":"Lato","fontWeight":"bold","fontSize":13.5,"align":"left","baseline":"top","color":"#111"},"encoding":{"x":{"datum":-2.2,"type":"quantitative","scale":{"domain":[-8,148.36],"nice":false,"zero":false},"axis":null},"y":{"datum":105.6,"type":"quantitative","scale":{"domain":[-13.25,112.6],"nice":false,"zero":false},"axis":null}}},
{"data":{"values":[{}]},"mark":{"type":"text","text":["I - Hidrodinâmica baixa","II - Hidrodinâmica moderada","III - Hidrodinâmica alta","IV - Hidrodinâmica muito alta"],"fontSize":10.3,"lineHeight":12.6,"align":"left","baseline":"top"},"encoding":{"x":{"datum":98.8,"type":"quantitative","scale":{"domain":[-8,148.36],"nice":false,"zero":false},"axis":null},"y":{"datum":98.6,"type":"quantitative","scale":{"domain":[-13.25,112.6],"nice":false,"zero":false},"axis":null}}},
{"data":{"name":"amostras"},"transform":[{"filter":"datum.local == 'Carnapijó'"},{"calculate":"datum.silte + datum.argila / 2","as":"x"}],"mark":{"type":"circle","color":"#808080","size":75,"opacity":1},"encoding":{"x":{"field":"x","type":"quantitative","scale":{"domain":[-8,148.36],"nice":false,"zero":false},"axis":null},"y":{"field":"argila","type":"quantitative","scale":{"domain":[-13.25,112.6],"nice":false,"zero":false},"axis":null}}},
{"data":{"name":"amostras"},"transform":[{"filter":"datum.amostra == 'B5' || datum.amostra == 'B6' || datum.amostra == 'B10' || datum.amostra == 'B8'"},{"calculate":"datum.silte + datum.argila / 2","as":"x"}],"mark":{"type":"text","fontSize":7.3,"align":"center","baseline":"middle","dx":-8,"dy":-8.5},"encoding":{"x":{"field":"x","type":"quantitative","scale":{"domain":[-8,148.36],"nice":false,"zero":false},"axis":null},"y":{"field":"argila","type":"quantitative","scale":{"domain":[-13.25,112.6],"nice":false,"zero":false},"axis":null},"text":{"field":"amostra","type":"nominal"}}},
{"data":{"name":"amostras"},"transform":[{"filter":"datum.amostra == 'B2'"},{"calculate":"datum.silte + datum.argila / 2","as":"x"}],"mark":{"type":"text","fontSize":7.3,"align":"center","baseline":"middle","dx":-8,"dy":-7},"encoding":{"x":{"field":"x","type":"quantitative","scale":{"domain":[-8,148.36],"nice":false,"zero":false},"axis":null},"y":{"field":"argila","type":"quantitative","scale":{"domain":[-13.25,112.6],"nice":false,"zero":false},"axis":null},"text":{"field":"amostra","type":"nominal"}}},
{"data":{"name":"amostras"},"transform":[{"filter":"datum.amostra == 'B1'"},{"calculate":"datum.silte + datum.argila / 2","as":"x"}],"mark":{"type":"text","fontSize":7.3,"align":"center","baseline":"middle","dx":3,"dy":-12},"encoding":{"x":{"field":"x","type":"quantitative","scale":{"domain":[-8,148.36],"nice":false,"zero":false},"axis":null},"y":{"field":"argila","type":"quantitative","scale":{"domain":[-13.25,112.6],"nice":false,"zero":false},"axis":null},"text":{"field":"amostra","type":"nominal"}}}
]}
]
}
